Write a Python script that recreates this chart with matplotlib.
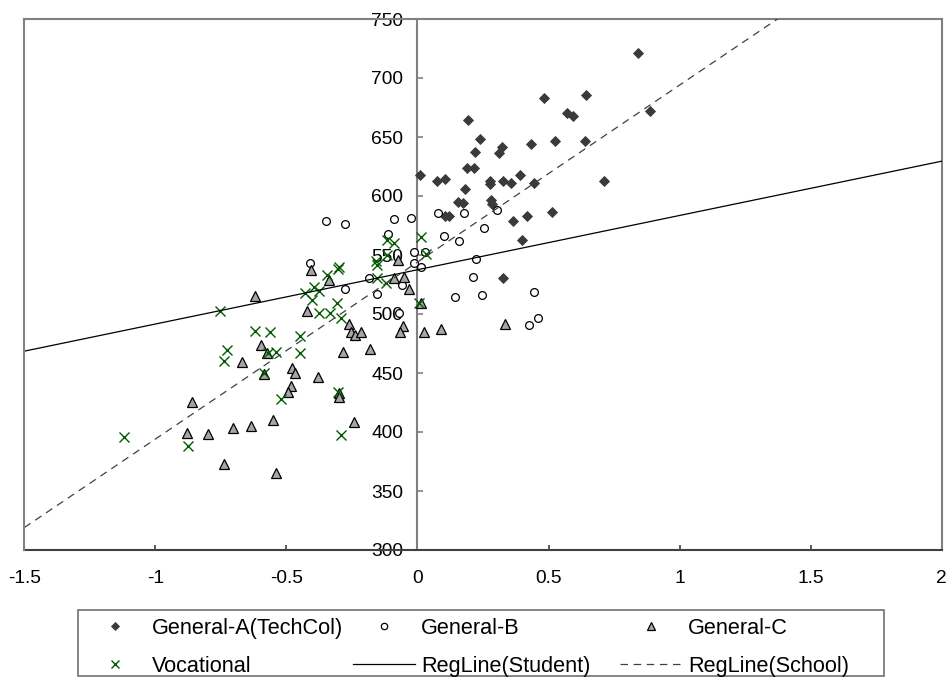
import numpy as np
import matplotlib.pyplot as plt
from matplotlib.patches import Rectangle

plt.rcParams['font.family'] = ['Liberation Sans', 'DejaVu Sans']

# General-A (TechCol)
ga_x = [0.193, 0.239, 0.221, 0.188, 0.216, 0.180, 0.011, 0.075, 0.105, 0.156,
        0.175, 0.276, 0.277, 0.280, 0.286, 0.104, 0.121, 0.310, 0.843, 0.481,
        0.644, 0.569, 0.592, 0.888, 0.321, 0.434, 0.526, 0.639, 0.326, 0.356,
        0.390, 0.445, 0.712, 0.366, 0.418, 0.514, 0.400, 0.328]
ga_y = [664.4, 648.0, 637.6, 623.7, 623.7, 606.0, 617.5, 612.5, 614.2, 595.0,
        593.8, 612.5, 610.0, 596.3, 593.2, 583.3, 583.3, 636.4, 721.2, 683.3,
        685.6, 670.6, 667.8, 672.0, 641.8, 644.1, 646.6, 646.6, 612.7, 611.3,
        617.8, 611.3, 612.7, 578.6, 583.3, 586.2, 562.4, 530.3]

# General-B
gb_x = [-0.350, -0.275, -0.088, -0.026, -0.111, 0.077, 0.179, 0.302, 0.100, 0.157,
        0.253, -0.013, 0.027, -0.013, 0.015, 0.224, -0.184, 0.212, -0.411, -0.060,
        -0.275, -0.156, 0.145, 0.246, -0.070, 0.443, 0.460, 0.426]
gb_y = [578.8, 576.3, 580.3, 581.4, 567.5, 585.3, 585.3, 587.9, 566.4, 561.6,
        572.6, 552.5, 552.3, 543.5, 539.8, 546.4, 530.8, 531.1, 543.5, 524.6,
        520.9, 517.0, 514.7, 515.8, 500.6, 518.4, 496.9, 490.7]

# General-C
gc_x = [-0.408, -0.336, -0.619, -0.074, -0.090, -0.051, -0.034, -0.421, 0.013, -0.261,
        -0.255, -0.238, -0.217, -0.057, -0.067, 0.023, 0.091, 0.333, -0.597, -0.575,
        -0.670, -0.285, -0.183, -0.479, -0.467, -0.587, -0.380, -0.482, -0.493, -0.300,
        -0.300, -0.859, -0.551, -0.244, -0.881, -0.800, -0.704, -0.636, -0.738, -0.540]
gc_y = [537.3, 528.8, 515.3, 545.8, 530.3, 531.6, 521.5, 502.3, 509.6, 491.5,
        484.5, 482.2, 484.5, 489.6, 484.5, 484.5, 487.0, 491.5, 473.5, 467.2,
        459.1, 467.8, 470.3, 454.5, 450.0, 449.2, 446.6, 438.9, 433.9, 433.3,
        429.9, 425.1, 410.2, 408.5, 399.4, 398.6, 403.6, 404.8, 373.2, 365.5]

# Vocational
vo_x = [0.013, -0.117, -0.090, 0.033, -0.117, -0.159, -0.156, -0.299, -0.303, -0.346,
        -0.154, -0.121, -0.394, -0.376, -0.428, -0.403, -0.307, 0.006, -0.752, -0.375,
        -0.332, -0.290, -0.619, -0.562, -0.449, -0.728, -0.738, -0.570, -0.540, -0.449,
        -0.587, -0.522, -0.303, -0.291, -0.875, -1.120]
vo_y = [565.3, 562.7, 559.9, 550.8, 550.0, 544.9, 541.5, 539.6, 537.9, 532.8,
        530.8, 526.5, 522.9, 519.5, 517.5, 511.9, 509.6, 509.0, 502.3, 500.6,
        501.1, 496.4, 485.8, 484.7, 481.4, 469.5, 460.4, 467.2, 468.0, 467.2,
        449.7, 427.7, 434.2, 397.5, 388.4, 396.0]

# regression lines (intercept, slope)
reg_student = (537.5, 46.0)
reg_school = (544.0, 150.0)
line_x = np.array([-1.5, 2.0])

x_ticks = [-1.5, -1, -0.5, 0, 0.5, 1, 1.5, 2]
x_tick_labels = ['-1.5', '-1', '-0.5', '0', '0.5', '1', '1.5', '2']
y_ticks = np.arange(300, 751, 50)

fig = plt.figure(figsize=(9.52, 6.8), dpi=100)
ax = fig.add_axes([24.3 / 952, 130 / 680, 917.4 / 952, 531 / 680])

h_a, = ax.plot(ga_x, ga_y, 'D', ms=5.1, mfc='#3a3a3a', mec='#3a3a3a', mew=0.6,
               ls='none', label='General-A(TechCol)', zorder=3)
h_b, = ax.plot(gb_x, gb_y, 'o', ms=5.6, mfc='white', mec='black', mew=0.9,
               ls='none', label='General-B', zorder=3)
h_c, = ax.plot(gc_x, gc_y, '^', ms=7.0, mfc='#a6a6a6', mec='black', mew=0.9,
               ls='none', label='General-C', zorder=3)
h_v, = ax.plot(vo_x, vo_y, 'x', ms=6.6, mec='#005a00', mew=1.0,
               ls='none', label='Vocational', zorder=3)
h_s, = ax.plot(line_x, reg_student[0] + reg_student[1] * line_x, color='black',
               lw=0.9, label='RegLine(Student)', zorder=4)
h_d, = ax.plot(line_x, reg_school[0] + reg_school[1] * line_x, color='#404040',
               lw=0.9, ls=(0, (6, 4.5)), label='RegLine(School)', zorder=4)

ax.set_xlim(-1.5, 2)
ax.set_ylim(300, 750)
ax.set_xticks(x_ticks)
ax.set_xticklabels(x_tick_labels)
ax.set_yticks(y_ticks)

ax.spines['left'].set_position(('data', 0))
for s in ['left', 'top', 'right']:
    ax.spines[s].set_color('#808080')
    ax.spines[s].set_linewidth(1.5)
ax.spines['bottom'].set_color('#404040')
ax.spines['bottom'].set_linewidth(1.5)
ax.axvline(-1.5, color='#808080', lw=1.5, clip_on=False, zorder=5)

ax.tick_params(axis='y', direction='in', length=4.5, width=1.2, color='#808080',
               pad=10.5, labelsize=13.8)
ax.tick_params(axis='x', direction='in', length=3.6, width=1.2, color='#404040',
               pad=14.5, labelsize=13.8)

# legend: three columns, each one its own legend, inside a shared box
leg_kw = dict(loc='upper left', frameon=False, fontsize=15.6, borderpad=0,
              borderaxespad=0, handlelength=2.85, handletextpad=0.28,
              labelspacing=0.78, markerscale=0.82)
cols = [([h_a, h_v], 84), ([h_b, h_s], 353), ([h_c, h_d], 620)]
for hs, cx in cols:
    fig.legend(hs, [h.get_label() for h in hs],
               bbox_to_anchor=(cx / 952, 1 - 618 / 680), **leg_kw)

fig.patches.append(Rectangle((78 / 952, 1 - 676 / 680), (884 - 78) / 952, 66 / 680,
                             transform=fig.transFigure, fill=False,
                             edgecolor='#707070', lw=1.2))

fig.savefig('out.png', dpi=100)
